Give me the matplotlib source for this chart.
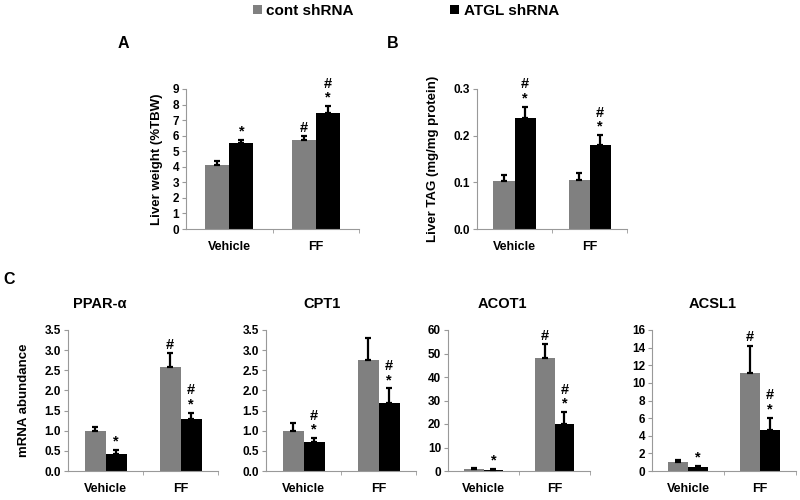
import matplotlib
matplotlib.use('Agg')
import matplotlib.pyplot as plt
from matplotlib.patches import Patch
from matplotlib.ticker import MultipleLocator, FormatStrFormatter
import numpy as np

plt.rcParams['font.family'] = ['Liberation Sans', 'DejaVu Sans']
plt.rcParams['font.weight'] = 'bold'

# data
groups = ['Vehicle', 'FF']
series = ['cont shRNA', 'ATGL shRNA']
colors = ['#808080', '#000000']

liver_wt_cont = [4.1, 5.75]
liver_wt_cont_err = [0.3, 0.2]
liver_wt_atgl = [5.55, 7.45]
liver_wt_atgl_err = [0.15, 0.45]
liver_wt_marks_cont = ['', '#']
liver_wt_marks_atgl = ['*', '#*']

liver_tag_cont = [0.103, 0.104]
liver_tag_cont_err = [0.013, 0.015]
liver_tag_atgl = [0.237, 0.181]
liver_tag_atgl_err = [0.025, 0.02]
liver_tag_marks_cont = ['', '']
liver_tag_marks_atgl = ['#*', '#*']

ppar_cont = [1.0, 2.58]
ppar_cont_err = [0.1, 0.35]
ppar_atgl = [0.43, 1.28]
ppar_atgl_err = [0.1, 0.17]
ppar_marks_cont = ['', '#']
ppar_marks_atgl = ['*', '#*']

cpt1_cont = [1.0, 2.75]
cpt1_cont_err = [0.18, 0.55]
cpt1_atgl = [0.72, 1.7]
cpt1_atgl_err = [0.1, 0.35]
cpt1_marks_cont = ['', '']
cpt1_marks_atgl = ['#*', '#*']

acot1_cont = [1.0, 48.0]
acot1_cont_err = [0.3, 6.0]
acot1_atgl = [0.5, 20.0]
acot1_atgl_err = [0.2, 5.0]
acot1_marks_cont = ['', '#']
acot1_marks_atgl = ['*', '#*']

acsl1_cont = [1.0, 11.1]
acsl1_cont_err = [0.3, 3.1]
acsl1_atgl = [0.4, 4.65]
acsl1_atgl_err = [0.2, 1.4]
acsl1_marks_cont = ['', '#']
acsl1_marks_atgl = ['*', '#*']

W, H = 800, 500
fig = plt.figure(figsize=(8, 5), dpi=100)


def px_axes(left, right, top, bottom):
    return fig.add_axes([left / W, 1 - bottom / H, (right - left) / W, (bottom - top) / H])


def draw_panel(ax, cont, cont_err, atgl, atgl_err, marks_cont, marks_atgl,
               ymax, step, fmt, ylabel=None, label_x=-0.3):
    x = np.arange(len(groups)) + 0.5
    bw = 0.28
    for vals, errs, marks, col, off in [(cont, cont_err, marks_cont, colors[0], -bw / 2),
                                        (atgl, atgl_err, marks_atgl, colors[1], bw / 2)]:
        ax.bar(x + off, vals, width=bw, color=col, zorder=2)
        ax.errorbar(x + off, vals, yerr=[np.zeros(len(errs)), errs], fmt='none',
                    ecolor='black', elinewidth=1.6, capsize=2.5, capthick=1.6, zorder=3)
        for xi, v, e, m in zip(x + off, vals, errs, marks):
            if '*' in m:
                ax.annotate('*', xy=(xi, v + e), xytext=(0, 1), textcoords='offset points',
                            ha='center', va='bottom', fontsize=10.5, fontweight='bold')
            if '#' in m:
                dy = 11 if '*' in m else 1
                ax.annotate('#', xy=(xi, v + e), xytext=(0, dy), textcoords='offset points',
                            ha='center', va='bottom', fontsize=10.5, fontweight='bold')
    ax.set_xlim(0, 2)
    ax.set_ylim(0, ymax)
    ax.yaxis.set_major_locator(MultipleLocator(step))
    ax.yaxis.set_major_formatter(FormatStrFormatter(fmt))
    ax.set_xticks(x)
    ax.set_xticklabels(groups, fontsize=9, fontweight='bold')
    ax.set_xticks([1.0, 2.0], minor=True)
    ax.tick_params(axis='x', which='major', length=0, pad=9)
    ax.tick_params(axis='x', which='minor', length=3, color='#999999')
    ax.tick_params(axis='y', length=3, color='#999999', labelsize=8.5, pad=2)
    for lbl in ax.get_yticklabels():
        lbl.set_fontweight('bold')
    for s in ['top', 'right']:
        ax.spines[s].set_visible(False)
    for s in ['left', 'bottom']:
        ax.spines[s].set_color('#999999')
        ax.spines[s].set_linewidth(0.8)
    if ylabel:
        ax.set_ylabel(ylabel, fontsize=9.5, fontweight='bold')
        ax.yaxis.set_label_coords(label_x, 0.5)


axA = px_axes(186, 359, 89, 229)
draw_panel(axA, liver_wt_cont, liver_wt_cont_err, liver_wt_atgl, liver_wt_atgl_err,
           liver_wt_marks_cont, liver_wt_marks_atgl, 9, 1, '%d',
           ylabel='Liver weight (%TBW)', label_x=-0.135)

axB = px_axes(477, 627, 89, 229)
draw_panel(axB, liver_tag_cont, liver_tag_cont_err, liver_tag_atgl, liver_tag_atgl_err,
           liver_tag_marks_cont, liver_tag_marks_atgl, 0.3, 0.1, '%.1f',
           ylabel='Liver TAG (mg/mg protein)', label_x=-0.25)

ax1 = px_axes(68, 218, 330, 471)
draw_panel(ax1, ppar_cont, ppar_cont_err, ppar_atgl, ppar_atgl_err,
           ppar_marks_cont, ppar_marks_atgl, 3.5, 0.5, '%.1f',
           ylabel='mRNA abundance', label_x=-0.25)
ax1.set_title('PPAR-α', x=0.21, pad=16, fontsize=10.5, fontweight='bold')

ax2 = px_axes(266, 416, 330, 471)
draw_panel(ax2, cpt1_cont, cpt1_cont_err, cpt1_atgl, cpt1_atgl_err,
           cpt1_marks_cont, cpt1_marks_atgl, 3.5, 0.5, '%.1f')
ax2.set_title('CPT1', x=0.37, pad=16, fontsize=10.5, fontweight='bold')

ax3 = px_axes(448, 590, 330, 471)
draw_panel(ax3, acot1_cont, acot1_cont_err, acot1_atgl, acot1_atgl_err,
           acot1_marks_cont, acot1_marks_atgl, 60, 10, '%d')
ax3.set_title('ACOT1', x=0.38, pad=16, fontsize=10.5, fontweight='bold')

ax4 = px_axes(652, 796, 330, 471)
draw_panel(ax4, acsl1_cont, acsl1_cont_err, acsl1_atgl, acsl1_atgl_err,
           acsl1_marks_cont, acsl1_marks_atgl, 16, 2, '%d')
ax4.set_title('ACSL1', x=0.42, pad=16, fontsize=10.5, fontweight='bold')

# panel letters
fig.text(118 / W, 1 - 43 / H, 'A', fontsize=11.5, fontweight='bold', va='center')
fig.text(387 / W, 1 - 43 / H, 'B', fontsize=11.5, fontweight='bold', va='center')
fig.text(3 / W, 1 - 280 / H, 'C', fontsize=11.5, fontweight='bold', va='center')

handles = [Patch(facecolor=c, edgecolor='none') for c in colors]
fig.legend(handles, series, loc='center', bbox_to_anchor=(406 / W, 1 - 11 / H), ncol=2,
           frameon=False, handlelength=0.6, handleheight=0.6, handletextpad=0.3,
           columnspacing=6.3, prop={'size': 11, 'weight': 'bold'})

fig.savefig('out.png', dpi=100)
